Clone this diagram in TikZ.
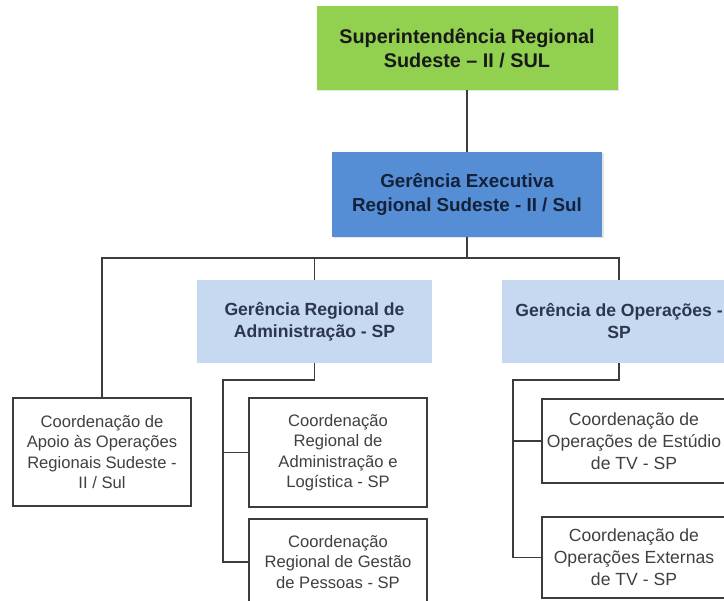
\documentclass[tikz,border=0pt]{standalone}
\usepackage{fontspec}
\setmainfont{Liberation Sans}
\usetikzlibrary{shadows}
\definecolor{topgreen}{HTML}{92D050}
\definecolor{execblue}{HTML}{558ED5}
\definecolor{lightblue}{HTML}{C6D9F1}
\definecolor{linegray}{HTML}{3C3C3C}
\definecolor{txtgray}{HTML}{404040}
\definecolor{navytxt}{HTML}{14213A}
\tikzset{
  base/.style={rectangle, inner sep=0pt, align=center, anchor=center},
  topbox/.style={base, fill=topgreen, minimum width=301pt, minimum height=84pt,
    font=\bfseries\fontsize{19.8}{24}\selectfont, text=black!90,
    drop shadow={shadow xshift=1.5pt, shadow yshift=-1.5pt, opacity=0.2}},
  execbox/.style={base, fill=execblue, minimum width=270pt, minimum height=85pt,
    font=\bfseries\fontsize{18.8}{24}\selectfont, text=navytxt,
    drop shadow={shadow xshift=1.5pt, shadow yshift=-1.5pt, opacity=0.2}},
  mgrbox/.style={base, fill=lightblue, minimum width=235pt, minimum height=83pt,
    font=\bfseries\fontsize{17.6}{22}\selectfont, text=navytxt!90},
  coordbox/.style={base, draw=linegray, line width=1.2pt, fill=white, minimum width=178pt,
    font=\fontsize{16.6}{20.5}\selectfont, text=txtgray},
  opsbox/.style={coordbox, minimum width=184pt, font=\fontsize{17.6}{22}\selectfont},
  conn/.style={draw=linegray, line width=1.2pt}
}
\begin{document}
\begin{tikzpicture}[x=1pt, y=-1pt]
\useasboundingbox (0,0) rectangle (724,601);
\clip (0,0) rectangle (724,601);
\fill[white] (0,0) rectangle (724,601);

\node[topbox] (sup) at (467,48) {Superintendência Regional\\Sudeste – II / SUL};
\node[execbox] (exe) at (467,194.5) {Gerência Executiva\\Regional Sudeste - II / Sul};
\node[mgrbox] (adm) at (314.5,321.5) {Gerência Regional de\\Administração - SP};
\node[mgrbox] (ops) at (619,321.5) {Gerência de Operações -\\SP};

\node[coordbox, minimum height=108pt] (apoio) at (102,452) {Coordenação de\\Apoio às Operações\\Regionais Sudeste -\\II / Sul};
\node[coordbox, minimum height=109pt] (cra1) at (338,452.5) {Coordenação\\Regional de\\Administração e\\Logística - SP};
\node[coordbox, minimum height=86pt] (cra2) at (338,562) {Coordenação\\Regional de Gestão\\de Pessoas - SP};
\node[opsbox, minimum height=84pt] (ops1) at (634,441) {Coordenação de\\Operações de Estúdio\\de TV - SP};
\node[opsbox, minimum height=81pt] (ops2) at (634,557.5) {Coordenação de\\Operações Externas\\de TV - SP};

\coordinate (bus) at (467,258);
\coordinate (ab) at (223,380);
\coordinate (ob) at (513,380);

\draw[conn] (sup.south) -- (exe.north);
\draw[conn] (exe.south) -- (bus);
\draw[conn] (apoio.north) |- (bus) -| (ops.north);
\draw[conn] (adm.north) -- (adm.north |- bus);

\draw[conn] (adm.south) |- (ab) |- (cra2.west);
\draw[conn] (cra1.west) -- (cra1.west -| ab);

\draw[conn] (ops.south) |- (ob) |- (ops2.west);
\draw[conn] (ops1.west) -- (ops1.west -| ob);
\end{tikzpicture}
\end{document}
